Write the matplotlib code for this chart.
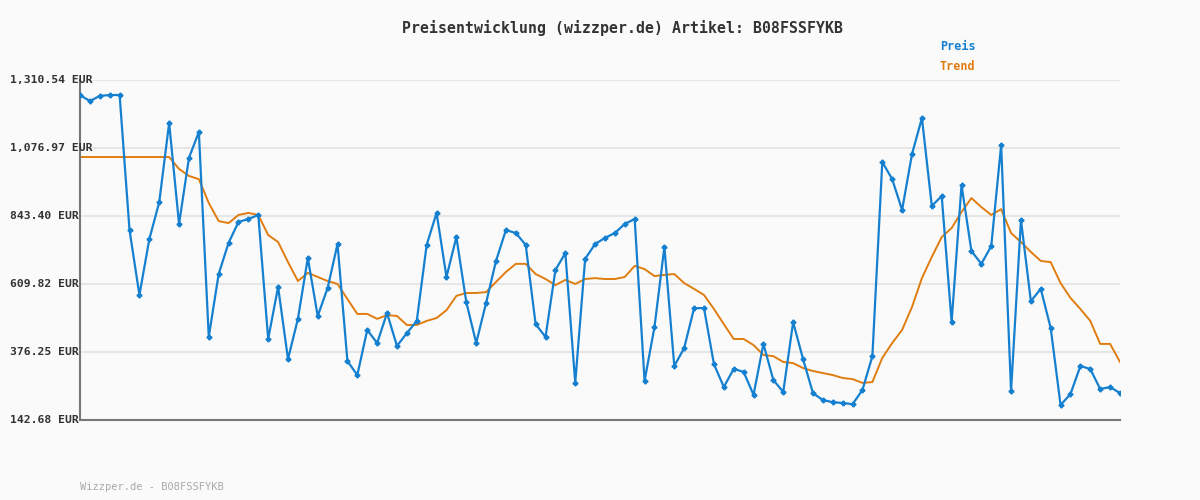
import matplotlib
matplotlib.use("Agg")
import matplotlib.pyplot as plt

preis = [1259,1238,1256,1259,1259,795,572,764,891,1163,816,1043,1132,428,644,751,823,833,847,421,600,352,490,699,500,596,747,345,297,452,407,510,397,441,483,744,
         854,634,771,548,407,545,689,795,785,744,472,428,658,716,270,696,747,768,785,816,833,277,462,737,328,390,527,527,335,256,318,308,229,404,280,239,
         479,352,235,211,204,201,197,246,362,1029,970,864,1056,1180,878,912,479,950,723,679,740,1087,242,830,551,593,459,194,232,328,318,249,256,235]
trend = [1046]*10 + [1005,981,970,888,826,819,847,854,847,778,754,685,620,648,634,620,610,558,507,507,490,503,500,469,469,483,
         493,520,569,579,579,582,617,651,679,679,644,627,606,624,610,627,630,627,627,634,672,661,637,641,644,613,593,572,524,472,421,421,400,366,362,342,
         338,321,311,304,297,287,283,270,273,356,407,452,531,630,703,771,802,857,905,874,847,867,785,754,720,689,685,613,562,524,483,404,404,342]
yticks = [142.68, 376.25, 609.82, 843.40, 1076.97, 1310.54]
title = "Preisentwicklung (wizzper.de) Artikel: B08FSSFYKB"

plt.rcParams['font.family'] = ['DejaVu Sans Mono']
fig = plt.figure(figsize=(12, 5), dpi=100, facecolor='#fafafa')
ax = fig.add_axes([80/1200, 80/500, 1040/1200, 340/500], facecolor='#fafafa')
x = list(range(len(preis)))
ax.plot(x, trend, color='#e07d10', lw=1.4, zorder=2)
ax.plot(x, preis, color='#1580d0', lw=1.6, marker='P', ms=3.2, zorder=3)
ax.set_xlim(0, len(preis) - 1)
ax.set_ylim(yticks[0], yticks[-1])
for v in yticks:
    ax.axhline(v, color='#e6e6e6', lw=1.5, zorder=1)
    ax.text(-70/1040, v, f"{v:,.2f} EUR", transform=ax.get_yaxis_transform(), ha='left',
            va='center', fontsize=8.2, weight='bold', color='#333333', zorder=4)
ax.set_xticks([]); ax.set_yticks([])
for s in ['top', 'right']:
    ax.spines[s].set_visible(False)
for s in ['left', 'bottom']:
    ax.spines[s].set_color('#777777'); ax.spines[s].set_linewidth(1.5)
fig.text(623/1200, 1 - 28/500, title, ha='center', va='center', fontsize=10.7, weight='bold', color='#333333')
fig.text(940/1200, 1 - 47/500, "Preis", ha='left', va='center', fontsize=8.5, color='#1580d0', weight='bold')
fig.text(940/1200, 1 - 67/500, "Trend", ha='left', va='center', fontsize=8.5, color='#e07d10', weight='bold')
fig.text(80/1200, 1 - 487/500, "Wizzper.de - B08FSSFYKB", ha='left', va='center', fontsize=7.5, color='#aaaaaa')
fig.savefig("out.png", dpi=100, facecolor=fig.get_facecolor())
